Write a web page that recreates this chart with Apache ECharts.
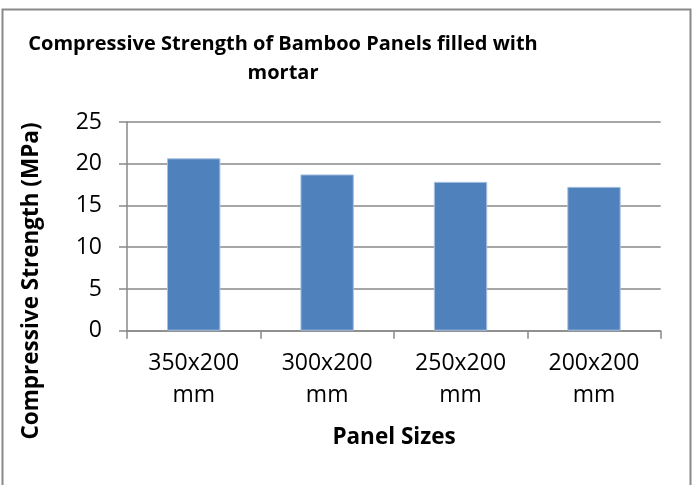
<!DOCTYPE html>
<html>
<head>
<meta charset="utf-8">
<script src="https://cdn.jsdelivr.net/npm/echarts@6/dist/echarts.min.js"></script>
<style>
  html, body { margin: 0; padding: 0; background: #fff; }
  #chart { width: 694px; height: 485px; }
</style>
</head>
<body>
<div id="chart"></div>
<script>
// Panel sizes tested and their compressive strength (MPa)
const categories = ['350x200\nmm', '300x200\nmm', '250x200\nmm', '200x200\nmm'];
const strength = [20.65, 18.72, 17.83, 17.23];
const titleLines = ['Compressive Strength of Bamboo Panels filled with', 'mortar'];
const yAxisTitle = 'Compressive Strength (MPa)';
const xAxisTitle = 'Panel Sizes';

const FONT = '"Open Sans", "Noto Sans", sans-serif';
const GRAY = '#898989';

const chart = echarts.init(document.getElementById('chart'), null, { renderer: 'canvas' });

chart.setOption({
  animation: false,
  backgroundColor: '#fff',
  textStyle: { fontFamily: FONT },
  grid: { left: 127, right: 33.3, top: 122, bottom: 154.3, containLabel: false },
  graphic: [
    {
      type: 'rect',
      shape: { x: 2.5, y: 9.5, width: 688, height: 490 },
      style: { fill: 'none', stroke: GRAY, lineWidth: 2 },
      silent: true
    },
    {
      type: 'text',
      x: 283, y: 58.5,
      style: {
        text: titleLines.join('\n'),
        font: 'bold 20px ' + FONT,
        fill: '#000',
        align: 'center',
        verticalAlign: 'middle',
        lineHeight: 29
      }
    },
    {
      type: 'text',
      x: 32, y: 281,
      rotation: Math.PI / 2,
      style: {
        text: yAxisTitle,
        font: 'bold 22.5px ' + FONT,
        fill: '#000',
        align: 'center',
        verticalAlign: 'middle'
      }
    },
    {
      type: 'text',
      x: 394, y: 438,
      style: {
        text: xAxisTitle,
        font: 'bold 22.5px ' + FONT,
        fill: '#000',
        align: 'center',
        verticalAlign: 'middle'
      }
    }
  ],
  xAxis: {
    type: 'category',
    data: categories,
    axisLine: { show: true, lineStyle: { color: GRAY, width: 1.5 } },
    axisTick: { show: true, length: 8, lineStyle: { color: GRAY, width: 1.5 } },
    axisLabel: {
      color: '#000',
      fontSize: 23,
      fontFamily: FONT,
      lineHeight: 32,
      margin: 17
    },
    splitLine: { show: false }
  },
  yAxis: {
    type: 'value',
    min: 0,
    max: 25,
    interval: 5,
    axisLine: { show: true, lineStyle: { color: GRAY, width: 1.5 } },
    axisTick: { show: true, length: 8, lineStyle: { color: GRAY, width: 1.5 } },
    axisLabel: { color: '#000', fontSize: 23, fontFamily: FONT, margin: 25 },
    splitLine: { show: true, lineStyle: { color: GRAY, width: 1.5 } }
  },
  series: [{
    type: 'bar',
    data: strength,
    barCategoryGap: '60%',
    itemStyle: { color: '#4F81BD', borderColor: '#A7C0E0', borderWidth: 1 }
  }]
});
</script>
</body>
</html>
